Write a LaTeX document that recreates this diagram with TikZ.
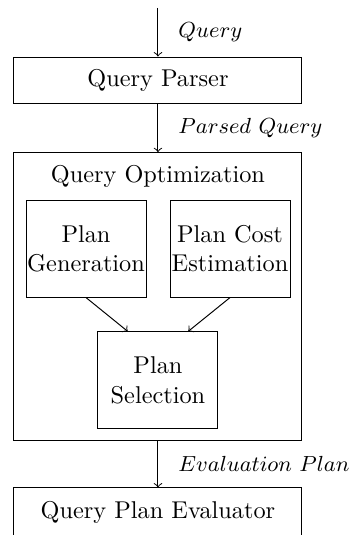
\documentclass[tikz,border=0pt]{standalone}
\usepackage{amsmath}
\usepackage{tikz}
\usetikzlibrary{arrows,calc}

\begin{document}
\begin{tikzpicture}[x=1pt,y=1pt,>=to]
\tikzstyle{stage}=[draw, minimum width=118.5pt, minimum height=19.3pt, inner sep=0pt]
\tikzstyle{part}=[draw, align=center, minimum width=49.4pt, minimum height=39.9pt, inner sep=0pt]
\tikzstyle{flow}=[right=4.9pt, font=\small]
\useasboundingbox (0,0) rectangle (144.85,-220.15);

% main pipeline
\coordinate (in) at (65,-3.2);
\node[stage] (parser) at (65,-33.1) {Query Parser};
\node[draw, minimum width=118.5pt, minimum height=118.3pt] (opt) at (65,-121.95) {};
\node[anchor=base] (optname) at (65,-74.9) {Query Optimization};
\node[stage, minimum height=20.4pt] (eval) at (65,-211) {Query Plan Evaluator};

% inside the optimizer
\node[part] (gen) at (35.4,-102.3) {Plan\\Generation};
\node[part] (cost) at (94.65,-102.3) {Plan Cost\\Estimation};
\node[part] (sel) at (65,-156.5) {Plan\\Selection};

\draw[->] (in) -- node[flow] {$Query$} (parser);
\draw[->] (parser) -- node[flow] {$Parsed\ Query$} (opt);
\draw[->] (opt) -- node[flow] {$Evaluation\ Plan$} (eval);

\draw[->] (gen.south) -- ($(sel.north west)!0.25!(sel.north east)$);
\draw[->] (cost.south) -- ($(sel.north west)!0.75!(sel.north east)$);
\end{tikzpicture}
\end{document}
